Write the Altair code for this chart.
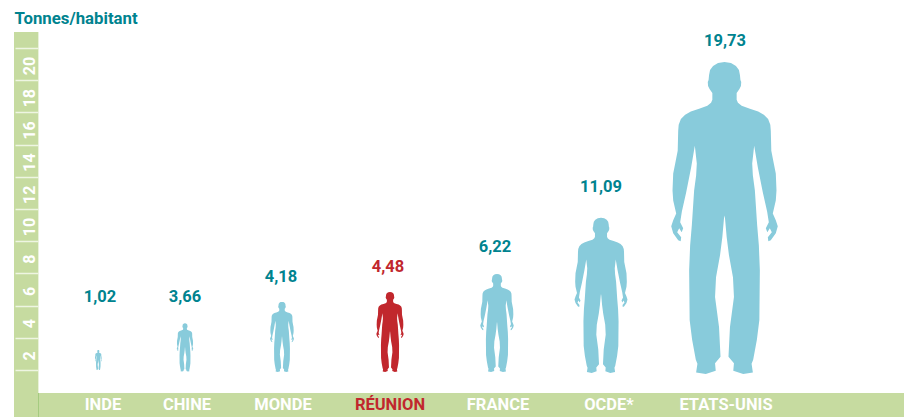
import altair as alt

# Values
categories = ["INDE", "CHINE", "MONDE", "RÉUNION", "FRANCE", "OCDE*", "ETATS-UNIS"]
values = [1.02, 3.66, 4.18, 4.48, 6.22, 11.09, 19.73]
value_text = ["1,02", "3,66", "4,18", "4,48", "6,22", "11,09", "19,73"]
groups = ["autre", "autre", "autre", "reunion", "autre", "autre", "autre"]
figure_heights = [1.24, 3.0, 4.35, 4.97, 6.09, 9.63, 19.38]   # silhouette height in axis units
figure_feet = [0.0, -0.1, -0.12, -0.12, -0.12, -0.18, -0.25]
label_levels = [4.55, 4.55, 5.8, 6.37, 7.65, 11.35, 20.45]
figure_x = [90.3, 177, 274, 382, 489, 593, 716.5]
value_x = [92, 177, 273, 380, 487, 593, 717]
category_x = [95, 179, 275, 382, 490, 601, 718]
tick_values = [0, 2, 4, 6, 8, 10, 12, 14, 16, 18, 20]

# Right half of the silhouette, traced in picture pixels from the largest figure
half = [(724.5, 61), (731, 62), (736, 65), (739, 69), (740, 74), (740.5, 79), (741.3, 81), (741, 85),
        (739.5, 88), (736.7, 92), (736.7, 99), (738, 102), (741.7, 105), (750, 108), (758.3, 110.7),
        (764, 114), (768.3, 118.3), (770.5, 124), (771, 130), (771.5, 150), (774, 163), (776, 173),
        (776.7, 190), (776, 200), (773, 213), (776, 220), (778, 226), (776, 233), (771, 240), (768.5, 241),
        (768, 237), (772, 232), (770, 228), (767.5, 232), (766, 228), (769, 222), (767.3, 211), (763, 192),
        (758, 167), (754.3, 145), (752.3, 163), (753, 175), (755, 190), (757.3, 225), (759, 245), (760, 270),
        (759.5, 320), (757, 340), (753.3, 360), (751.7, 364), (753, 372.7), (743.3, 374.3), (733.3, 371),
        (734, 363.5), (728.5, 357), (730, 327), (734, 297), (733, 277), (729, 255), (726.7, 237), (725, 218),
        (724.5, 215)]
cx, top, bottom = 724.5, 61.0, 374.3
mid = (top + bottom) / 2
scale = (bottom - top) / 2
pts = [((x - cx) / scale, (y - mid) / scale) for x, y in half]
full = pts + [(-x, y) for x, y in reversed(pts[1:-1])]
SHAPE = "M" + " L".join(f"{x:.4f},{y:.4f}" for x, y in full) + " Z"

rows = [
    dict(cat=c, val=v, txt=t, grp=g, fig=h, foot=f, level=l, fx=a, vx=b, cx=d)
    for c, v, t, g, h, f, l, a, b, d in zip(categories, values, value_text, groups, figure_heights,
                                            figure_feet, label_levels, figure_x, value_x, category_x)
]
data = alt.Data(values=rows)
blank = alt.Data(values=[{}])

FONT = "Roboto"
TEAL = "#00838F"
BAND = "#C6DBA0"
PX_PER_UNIT = 16.1

xs = alt.Scale(domain=[0, 896], nice=False, zero=False)
ys = alt.Scale(domain=[-2.919, 22.484], nice=False, zero=False)
txt_color = alt.Color("grp:N", scale=alt.Scale(domain=["autre", "reunion"], range=[TEAL, "#C1272D"]), legend=None)
fig_color = alt.Color("grp:N", scale=alt.Scale(domain=["autre", "reunion"], range=["#88CBDB", "#C1272D"]), legend=None)

left_band = alt.Chart(blank).mark_rect(color=BAND).encode(
    x=alt.value(6), x2=alt.value(30), y=alt.value(24), y2=alt.value(409))
pale = alt.Chart(blank).mark_rect(color="#E9F2DA").encode(
    x=alt.value(30), x2=alt.value(31), y=alt.value(24), y2=alt.value(385))
bottom_band = alt.Chart(blank).mark_rect(color=BAND).encode(
    x=alt.value(30), x2=alt.value(896), y=alt.value(385), y2=alt.value(409))
edge = alt.Chart(blank).mark_rect(color="#A5CB80").encode(
    x=alt.value(30), x2=alt.value(31), y=alt.value(385), y2=alt.value(409))

figures = alt.Chart(data).transform_calculate(
    mid="datum.foot + datum.fig / 2", area="datum.fig * datum.fig"
).mark_point(shape=SHAPE, filled=True, opacity=1, strokeWidth=0).encode(
    x=alt.X("fx:Q", scale=xs, axis=None),
    y=alt.Y("mid:Q", scale=ys, axis=alt.Axis(
        values=tick_values, offset=-30, domain=False, grid=False, zindex=1,
        tickColor="#EEF5E2", tickSize=23, tickWidth=1.5,
        labelColor="white", labelFont=FONT, labelFontWeight="bold", labelFontSize=16,
        labelAngle=270, labelAlign="center", labelBaseline="middle", labelPadding=-14,
        labelOffset=17.5, labelExpr="datum.value == 0 ? '' : datum.label",
        title="Tonnes/habitant", titleFont=FONT, titleFontWeight="bold", titleFontSize=16.8,
        titleColor=TEAL, titleAngle=0, titleAlign="left", titleBaseline="middle",
        titleX=-24, titleY=10)),
    size=alt.Size("area:Q", scale=alt.Scale(domain=[0, 400], range=[0, (20 * PX_PER_UNIT) ** 2]), legend=None),
    color=fig_color,
)

value_labels = alt.Chart(data).mark_text(font=FONT, fontWeight="bold", fontSize=16.5, baseline="middle").encode(
    x=alt.X("vx:Q", scale=xs, axis=None),
    y=alt.Y("level:Q", scale=ys),
    text="txt:N",
    color=txt_color,
)

cat_labels = alt.Chart(data).mark_text(font=FONT, fontWeight="bold", fontSize=16.5, baseline="middle").encode(
    x=alt.X("cx:Q", scale=xs, axis=None),
    y=alt.value(397),
    text="cat:N",
    color=alt.Color("grp:N", scale=alt.Scale(domain=["autre", "reunion"], range=["white", "#C1272D"]), legend=None),
)

chart = alt.layer(left_band, pale, bottom_band, edge, figures, value_labels, cat_labels).resolve_scale(
    color="independent"
).properties(
    width=896, height=409, padding=0, autosize=alt.AutoSizeParams(type="none"), background="white"
).configure_view(stroke=None)

chart.save("out.html", embed_options={"renderer": "svg", "actions": False})
